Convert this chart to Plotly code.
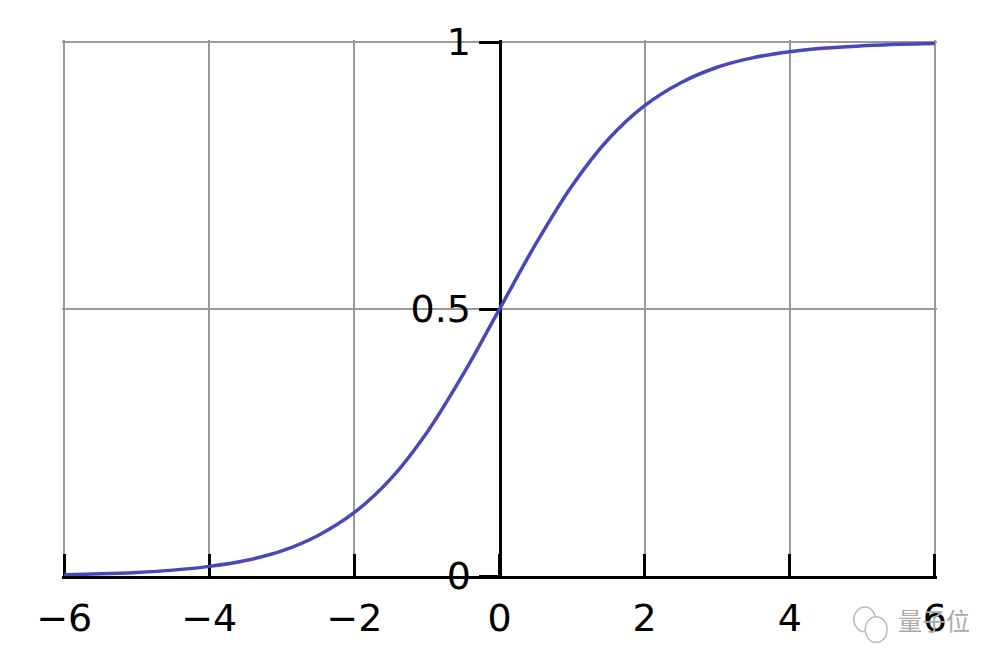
import plotly.graph_objects as go

x_vals = [-6, -5.5, -5, -4.5, -4, -3.5, -3, -2.5, -2, -1.5, -1, -0.5, 0,
          0.5, 1, 1.5, 2, 2.5, 3, 3.5, 4, 4.5, 5, 5.5, 6]
y_vals = [0.0025, 0.004, 0.0067, 0.011, 0.018, 0.029, 0.047, 0.076, 0.119,
          0.182, 0.269, 0.378, 0.5, 0.622, 0.731, 0.818, 0.881, 0.924, 0.953,
          0.971, 0.982, 0.989, 0.993, 0.996, 0.9975]
x_ticks = [-6, -4, -2, 0, 2, 4, 6]
x_tick_text = ["\u22126", "\u22124", "\u22122", "0", "2", "4", "6"]
y_ticks = [0, 0.5, 1]
y_tick_text = ["0", "0.5", "1"]

fig = go.Figure()
fig.add_trace(go.Scatter(x=x_vals, y=y_vals, mode="lines",
                         line=dict(color="#4a47b8", width=3.5, shape="spline"),
                         cliponaxis=False, showlegend=False, hoverinfo="skip"))

font = dict(family="DejaVu Sans", size=38, color="black")
fig.update_layout(
    width=1000, height=666,
    margin=dict(l=54, r=71, t=30, b=98),
    paper_bgcolor="white", plot_bgcolor="white",
    xaxis=dict(range=[-6.03, 6.03], tickvals=x_ticks, ticktext=x_tick_text,
               showgrid=True, gridcolor="#999999", gridwidth=2,
               showline=True, linecolor="black", linewidth=3,
               ticks="inside", ticklen=22, tickwidth=3, tickcolor="black",
               ticklabelstandoff=6,
               zeroline=False, tickfont=font, layer="below traces",
               fixedrange=True),
    yaxis=dict(range=[0, 1.004], tickvals=y_ticks, ticktext=y_tick_text,
               anchor="free", position=0.5,
               showgrid=True, gridcolor="#999999", gridwidth=2,
               showline=True, linecolor="black", linewidth=3,
               ticks="outside", ticklen=20, tickwidth=3, tickcolor="black",
               ticklabelstandoff=0,
               zeroline=False, tickfont=font, layer="below traces",
               fixedrange=True),
)

# watermark
fig.add_annotation(xref="paper", yref="paper", x=1.04, y=-0.082,
                   xanchor="right", yanchor="middle", showarrow=False,
                   text="量子位", font=dict(family="Noto Sans CJK SC", size=24, color="#aaaaaa"))
fig.add_shape(type="circle", xref="paper", yref="paper",
              x0=0.905, x1=0.930, y0=-0.104, y1=-0.058,
              line=dict(color="#bbbbbb", width=1.5), fillcolor="white")
fig.add_shape(type="circle", xref="paper", yref="paper",
              x0=0.918, x1=0.943, y0=-0.124, y1=-0.076,
              line=dict(color="#bbbbbb", width=1.5), fillcolor="white")

fig.write_html("out.html")
